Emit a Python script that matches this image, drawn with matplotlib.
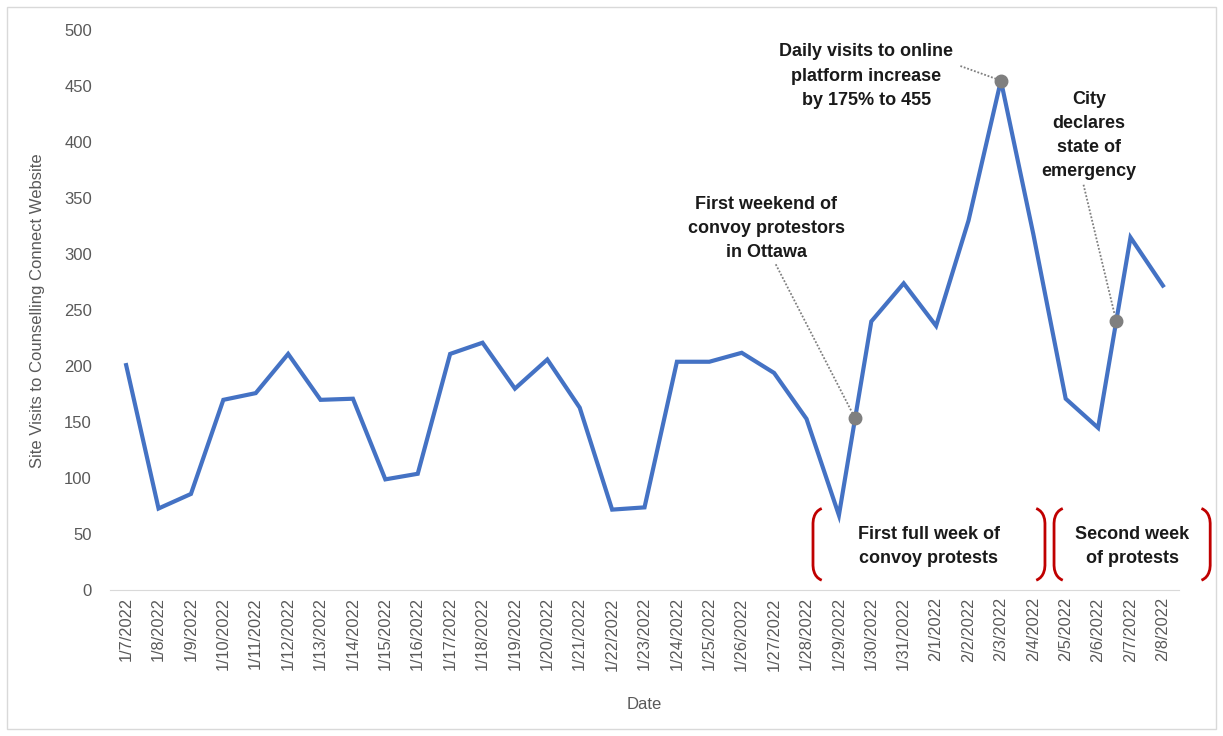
import numpy as np
import matplotlib.pyplot as plt
from matplotlib.patches import Rectangle, PathPatch
from matplotlib.path import Path

plt.rcParams['font.family'] = ['Liberation Sans', 'DejaVu Sans']

# Data
dates = ['1/7/2022', '1/8/2022', '1/9/2022', '1/10/2022', '1/11/2022', '1/12/2022',
         '1/13/2022', '1/14/2022', '1/15/2022', '1/16/2022', '1/17/2022', '1/18/2022',
         '1/19/2022', '1/20/2022', '1/21/2022', '1/22/2022', '1/23/2022', '1/24/2022',
         '1/25/2022', '1/26/2022', '1/27/2022', '1/28/2022', '1/29/2022', '1/30/2022',
         '1/31/2022', '2/1/2022', '2/2/2022', '2/3/2022', '2/4/2022', '2/5/2022',
         '2/6/2022', '2/7/2022', '2/8/2022']
visits = [201, 73, 86, 170, 176, 211, 170, 171, 99, 104, 211, 221, 180, 206, 163,
          72, 74, 204, 204, 212, 194, 153, 67, 240, 274, 236, 330, 455, 318, 171,
          145, 315, 272]

# annotated points (position along the date axis)
event_pos = [22.5, 27.0, 30.56]
event_text = ['First weekend of\nconvoy protestors\nin Ottawa',
              'Daily visits to online\nplatform increase\nby 175% to 455',
              'City\ndeclares\nstate of\nemergency']
label_xy = [(19.75, 323), (22.85, 459), (29.72, 406)]
leader_start = [(20.05, 291), (25.75, 468), (29.55, 362)]

# week brackets (x ranges) and labels
week_spans = [(21.2, 28.36), (28.64, 33.46)]
week_text = ['First full week of\nconvoy protests', 'Second week\nof protests']

x = np.arange(len(dates))
fig = plt.figure(figsize=(12.23, 7.36), dpi=100)
ax = fig.add_axes([0.0899, 0.198, 0.8742, 0.761])

ax.plot(x, visits, color='#4472C4', lw=3, solid_joinstyle='miter', zorder=3)

# events
ev_y = np.interp(event_pos, x, visits)
for (px, py), (sx, sy), tx, ex, ey in zip(label_xy, leader_start, event_text, event_pos, ev_y):
    ax.plot([sx, ex], [sy, ey], color='#7F7F7F', lw=1.3, ls=(0, (1, 1)), zorder=2)
    ax.plot(ex, ey, 'o', color='#7F7F7F', ms=9, zorder=4)
    ax.text(px, py, tx, ha='center', va='center', fontsize=13, fontweight='bold',
            linespacing=1.55, color='#1a1a1a')

# brackets
def bracket(x0, x1, left):
    ytop, ybot = 73, 9
    bw = 0.27
    if left:
        xe, xc = x0 + bw, x0
    else:
        xe, xc = x1 - bw, x1
    verts = [(xe, ytop), (xc, ytop - 3), (xc, ytop - 12), (xc, ytop - 14),
             (xc, ybot + 14), (xc, ybot + 12), (xc, ybot + 3), (xe, ybot)]
    codes = [Path.MOVETO, Path.CURVE4, Path.CURVE4, Path.CURVE4,
             Path.LINETO, Path.CURVE4, Path.CURVE4, Path.CURVE4]
    ax.add_patch(PathPatch(Path(verts, codes), fill=False, ec='#C00000', lw=2,
                           clip_on=False, zorder=3))

for (a, b), t in zip(week_spans, week_text):
    bracket(a, b, True)
    bracket(a, b, False)
    ax.text((a + b) / 2, 39, t, ha='center', va='center', fontsize=13,
            fontweight='bold', linespacing=1.55, color='#1a1a1a')

ax.set_xlim(-0.5, len(dates) - 0.5)
ax.set_ylim(0, 500)
ax.set_yticks(range(0, 501, 50))
ax.set_xticks(x)
ax.set_xticklabels(dates, rotation=90)
ax.tick_params(axis='both', length=0, labelsize=12, colors='#595959')
ax.tick_params(axis='x', pad=5, labelsize=11.8)
ax.tick_params(axis='y', pad=13)
for s in ['top', 'right', 'left']:
    ax.spines[s].set_visible(False)
ax.spines['bottom'].set_color('#D9D9D9')
ax.set_xlabel('Date', fontsize=12, color='#595959', labelpad=19)
ax.set_ylabel('Site Visits to Counselling Connect Website', fontsize=12,
              color='#595959', labelpad=14)

fig.patches.append(Rectangle((0.006, 0.01), 0.988, 0.98, transform=fig.transFigure,
                             fill=False, ec='#D9D9D9', lw=1))

fig.savefig('out.png', dpi=100)
